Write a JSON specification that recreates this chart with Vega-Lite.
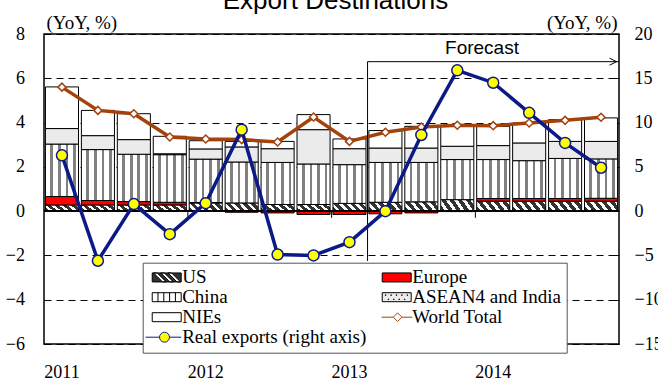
{
  "$schema": "https://vega.github.io/schema/vega-lite/v6.json",
  "width": 575,
  "height": 310,
  "autosize": {"type": "none"},
  "padding": {"left": 44, "top": 34, "right": 39, "bottom": 35},
  "background": "white",
  "title": {"text": "Export Destinations", "font": "Liberation Sans", "fontSize": 26, "fontWeight": "normal", "color": "black", "anchor": "middle", "frame": "group", "baseline": "alphabetic", "offset": 4, "dx": 4, "dy": 26},
  "config": {"view": {"stroke": "black", "strokeWidth": 1.5}, "font": "Liberation Serif"},
  "datasets": {
    "bars": [
      {"q": "2011Q1", "series": "US", "value": 0.28}, {"q": "2011Q1", "series": "Europe", "value": 0.38}, {"q": "2011Q1", "series": "China", "value": 2.37}, {"q": "2011Q1", "series": "ASEAN4 and India", "value": 0.70}, {"q": "2011Q1", "series": "NIEs", "value": 1.88},
      {"q": "2011Q2", "series": "US", "value": 0.28}, {"q": "2011Q2", "series": "Europe", "value": 0.20}, {"q": "2011Q2", "series": "China", "value": 2.30}, {"q": "2011Q2", "series": "ASEAN4 and India", "value": 0.63}, {"q": "2011Q2", "series": "NIEs", "value": 1.14},
      {"q": "2011Q3", "series": "US", "value": 0.28}, {"q": "2011Q3", "series": "Europe", "value": 0.15}, {"q": "2011Q3", "series": "China", "value": 2.14}, {"q": "2011Q3", "series": "ASEAN4 and India", "value": 0.66}, {"q": "2011Q3", "series": "NIEs", "value": 1.17},
      {"q": "2011Q4", "series": "US", "value": 0.28}, {"q": "2011Q4", "series": "Europe", "value": 0.12}, {"q": "2011Q4", "series": "China", "value": 2.15}, {"q": "2011Q4", "series": "ASEAN4 and India", "value": 0.04}, {"q": "2011Q4", "series": "NIEs", "value": 0.79},
      {"q": "2012Q1", "series": "US", "value": 0.37}, {"q": "2012Q1", "series": "Europe", "value": 0.02}, {"q": "2012Q1", "series": "China", "value": 1.96}, {"q": "2012Q1", "series": "ASEAN4 and India", "value": 0.46}, {"q": "2012Q1", "series": "NIEs", "value": 0.37},
      {"q": "2012Q2", "series": "US", "value": 0.37}, {"q": "2012Q2", "series": "Europe", "value": -0.05}, {"q": "2012Q2", "series": "China", "value": 1.85}, {"q": "2012Q2", "series": "ASEAN4 and India", "value": 0.68}, {"q": "2012Q2", "series": "NIEs", "value": 0.25},
      {"q": "2012Q3", "series": "US", "value": 0.30}, {"q": "2012Q3", "series": "Europe", "value": -0.08}, {"q": "2012Q3", "series": "China", "value": 1.90}, {"q": "2012Q3", "series": "ASEAN4 and India", "value": 0.62}, {"q": "2012Q3", "series": "NIEs", "value": 0.33},
      {"q": "2012Q4", "series": "US", "value": 0.30}, {"q": "2012Q4", "series": "Europe", "value": -0.15}, {"q": "2012Q4", "series": "China", "value": 1.83}, {"q": "2012Q4", "series": "ASEAN4 and India", "value": 1.55}, {"q": "2012Q4", "series": "NIEs", "value": 0.68},
      {"q": "2013Q1", "series": "US", "value": 0.35}, {"q": "2013Q1", "series": "Europe", "value": -0.15}, {"q": "2013Q1", "series": "China", "value": 1.75}, {"q": "2013Q1", "series": "ASEAN4 and India", "value": 0.72}, {"q": "2013Q1", "series": "NIEs", "value": 0.44},
      {"q": "2013Q2", "series": "US", "value": 0.40}, {"q": "2013Q2", "series": "Europe", "value": -0.12}, {"q": "2013Q2", "series": "China", "value": 1.80}, {"q": "2013Q2", "series": "ASEAN4 and India", "value": 0.65}, {"q": "2013Q2", "series": "NIEs", "value": 0.79},
      {"q": "2013Q3", "series": "US", "value": 0.42}, {"q": "2013Q3", "series": "Europe", "value": -0.08}, {"q": "2013Q3", "series": "China", "value": 1.78}, {"q": "2013Q3", "series": "ASEAN4 and India", "value": 0.65}, {"q": "2013Q3", "series": "NIEs", "value": 0.98},
      {"q": "2013Q4", "series": "US", "value": 0.52}, {"q": "2013Q4", "series": "Europe", "value": -0.02}, {"q": "2013Q4", "series": "China", "value": 1.81}, {"q": "2013Q4", "series": "ASEAN4 and India", "value": 0.60}, {"q": "2013Q4", "series": "NIEs", "value": 0.90},
      {"q": "2014Q1", "series": "US", "value": 0.45}, {"q": "2014Q1", "series": "Europe", "value": 0.12}, {"q": "2014Q1", "series": "China", "value": 1.76}, {"q": "2014Q1", "series": "ASEAN4 and India", "value": 0.63}, {"q": "2014Q1", "series": "NIEs", "value": 0.87},
      {"q": "2014Q2", "series": "US", "value": 0.45}, {"q": "2014Q2", "series": "Europe", "value": 0.12}, {"q": "2014Q2", "series": "China", "value": 1.71}, {"q": "2014Q2", "series": "ASEAN4 and India", "value": 0.80}, {"q": "2014Q2", "series": "NIEs", "value": 0.90},
      {"q": "2014Q3", "series": "US", "value": 0.45}, {"q": "2014Q3", "series": "Europe", "value": 0.12}, {"q": "2014Q3", "series": "China", "value": 1.81}, {"q": "2014Q3", "series": "ASEAN4 and India", "value": 0.77}, {"q": "2014Q3", "series": "NIEs", "value": 0.98},
      {"q": "2014Q4", "series": "US", "value": 0.45}, {"q": "2014Q4", "series": "Europe", "value": 0.13}, {"q": "2014Q4", "series": "China", "value": 1.78}, {"q": "2014Q4", "series": "ASEAN4 and India", "value": 0.79}, {"q": "2014Q4", "series": "NIEs", "value": 1.06}
    ],
    "lines": [
      {"q": "2011Q1", "world": 5.6, "real": 6.3},
      {"q": "2011Q2", "world": 4.55, "real": -5.6},
      {"q": "2011Q3", "world": 4.4, "real": 0.8},
      {"q": "2011Q4", "world": 3.35, "real": -2.6},
      {"q": "2012Q1", "world": 3.26, "real": 0.9},
      {"q": "2012Q2", "world": 3.23, "real": 9.2},
      {"q": "2012Q3", "world": 3.12, "real": -4.9},
      {"q": "2012Q4", "world": 4.25, "real": -5.0},
      {"q": "2013Q1", "world": 3.15, "real": -3.5},
      {"q": "2013Q2", "world": 3.56, "real": 0.0},
      {"q": "2013Q3", "world": 3.8, "real": 8.6},
      {"q": "2013Q4", "world": 3.88, "real": 15.9},
      {"q": "2014Q1", "world": 3.86, "real": 14.5},
      {"q": "2014Q2", "world": 3.98, "real": 11.1},
      {"q": "2014Q3", "world": 4.1, "real": 7.7},
      {"q": "2014Q4", "world": 4.24, "real": 4.9}
    ],
    "forecast": [{"start": "2013Q2", "end": "2014Q4", "label": "Forecast"}]
  },
  "layer": [
    {
      "layer": [
        {
          "data": {"name": "bars"},
          "transform": [{"calculate": "indexof(['US','Europe','China','ASEAN4 and India','NIEs'], datum.series)", "as": "ord"}],
          "mark": {"type": "bar", "stroke": "black", "strokeWidth": 1},
          "encoding": {
            "x": {"field": "q", "type": "ordinal",
              "scale": {"domain": ["2011Q1","2011Q2","2011Q3","2011Q4","2012Q1","2012Q2","2012Q3","2012Q4","2013Q1","2013Q2","2013Q3","2013Q4","2014Q1","2014Q2","2014Q3","2014Q4"], "paddingInner": 0.08, "paddingOuter": 0.04},
              "axis": {"title": null, "labelExpr": "indexof(datum.value, 'Q1') > 0 ? substring(datum.value, 0, 4) : ''", "ticks": false, "domain": false, "grid": false, "labelPadding": 19, "labelFont": "Liberation Serif", "labelFontSize": 18, "labelColor": "black", "labelAngle": 0, "labelOverlap": false}},
            "y": {"field": "value", "type": "quantitative", "stack": "zero",
              "scale": {"domain": [-6, 8], "nice": false},
              "axis": {"title": "(YoY, %)", "titleAngle": 0, "titleAlign": "left", "titleX": 2, "titleY": -6, "titleBaseline": "alphabetic", "titleFont": "Liberation Serif", "titleFontSize": 19, "titleFontWeight": "normal", "titleColor": "black",
                "values": [-6, -4, -2, 0, 2, 4, 6, 8], "labelFont": "Liberation Serif", "labelFontSize": 18, "labelColor": "black", "labelPadding": 25.5, "tickSize": -6, "tickColor": "black", "domain": false,
                "grid": true, "gridColor": "black", "gridDash": [7, 5], "gridWidth": 1, "gridOpacity": 1}},
            "detail": {"field": "series"},
            "order": {"field": "ord", "type": "quantitative"},
            "fill": {
              "condition": [
                {"test": "datum.series === 'US'", "value": {"gradient": "linear", "x1": 0, "y1": 1, "x2": 1.17, "y2": 0.72, "stops": [
                  {"offset": 0, "color": "#333333"}, {"offset": 0.11, "color": "#333333"}, {"offset": 0.11, "color": "white"}, {"offset": 0.2, "color": "white"},
                  {"offset": 0.2, "color": "#333333"}, {"offset": 0.31, "color": "#333333"}, {"offset": 0.31, "color": "white"}, {"offset": 0.4, "color": "white"},
                  {"offset": 0.4, "color": "#333333"}, {"offset": 0.51, "color": "#333333"}, {"offset": 0.51, "color": "white"}, {"offset": 0.6, "color": "white"},
                  {"offset": 0.6, "color": "#333333"}, {"offset": 0.71, "color": "#333333"}, {"offset": 0.71, "color": "white"}, {"offset": 0.8, "color": "white"},
                  {"offset": 0.8, "color": "#333333"}, {"offset": 0.91, "color": "#333333"}, {"offset": 0.91, "color": "white"}, {"offset": 1, "color": "white"}]}},
                {"test": "datum.series === 'Europe'", "value": "#ff0000"},
                {"test": "datum.series === 'China'", "value": {"gradient": "linear", "x1": 0, "y1": 0, "x2": 1, "y2": 0, "stops": [
                  {"offset": 0, "color": "white"}, {"offset": 0.15, "color": "white"}, {"offset": 0.15, "color": "#808080"}, {"offset": 0.23, "color": "#808080"},
                  {"offset": 0.23, "color": "white"}, {"offset": 0.38, "color": "white"}, {"offset": 0.38, "color": "#808080"}, {"offset": 0.46, "color": "#808080"},
                  {"offset": 0.46, "color": "white"}, {"offset": 0.61, "color": "white"}, {"offset": 0.61, "color": "#808080"}, {"offset": 0.69, "color": "#808080"},
                  {"offset": 0.69, "color": "white"}, {"offset": 0.84, "color": "white"}, {"offset": 0.84, "color": "#808080"}, {"offset": 0.92, "color": "#808080"},
                  {"offset": 0.92, "color": "white"}, {"offset": 1, "color": "white"}]}},
                {"test": "datum.series === 'ASEAN4 and India'", "value": "#ebebeb"}
              ],
              "value": "white"
            }
          }
        },
        {
          "data": {"name": "bars"},
          "transform": [{"filter": "datum.series === 'US' && indexof(datum.q, 'Q1') > 0 && datum.q !== '2011Q1'"}],
          "mark": {"type": "rule", "color": "black", "strokeWidth": 1},
          "encoding": {"x": {"field": "q", "type": "ordinal", "bandPosition": -0.04}, "y": {"datum": 0}, "y2": {"datum": -0.3}}
        },
        {
          "data": {"name": "lines"},
          "mark": {"type": "rule", "color": "black", "strokeWidth": 1.5},
          "encoding": {"y": {"datum": 0}}
        },
        {
          "data": {"name": "lines"},
          "mark": {"type": "line", "color": "#a4420c", "strokeWidth": 3.5},
          "encoding": {"x": {"field": "q", "type": "ordinal"}, "y": {"field": "world", "type": "quantitative"}}
        },
        {
          "data": {"name": "lines"},
          "mark": {"type": "point", "shape": "diamond", "filled": true, "fill": "white", "stroke": "#a4420c", "strokeWidth": 1.5, "size": 64, "opacity": 1},
          "encoding": {"x": {"field": "q", "type": "ordinal"}, "y": {"field": "world", "type": "quantitative"}}
        },
        {
          "data": {"name": "forecast"},
          "mark": {"type": "rule", "color": "black", "strokeWidth": 1},
          "encoding": {"x": {"field": "start", "type": "ordinal", "bandPosition": -0.04}, "y": {"datum": 6.75}, "y2": {"datum": -2.25}}
        },
        {
          "data": {"name": "forecast"},
          "mark": {"type": "rule", "color": "black", "strokeWidth": 1},
          "encoding": {"x": {"field": "start", "type": "ordinal", "bandPosition": -0.04}, "x2": {"value": "width"}, "y": {"datum": 6.75}}
        },
        {
          "data": {"name": "forecast"},
          "mark": {"type": "point", "shape": "M-2,-1L0,0L-2,1", "filled": false, "stroke": "black", "strokeWidth": 1, "size": 49, "opacity": 1},
          "encoding": {"x": {"field": "end", "type": "ordinal", "bandPosition": 0.97}, "y": {"datum": 6.75}}
        },
        {
          "data": {"name": "forecast"},
          "mark": {"type": "text", "font": "Liberation Sans", "fontSize": 19, "color": "black", "baseline": "alphabetic", "align": "center"},
          "encoding": {"x": {"datum": "2014Q1", "bandPosition": 0.16}, "y": {"datum": 7.1}, "text": {"field": "label"}}
        },
        {
          "data": {"values": []},
          "mark": {"type": "point", "filled": true, "opacity": 1},
          "encoding": {
            "x": {"field": "q", "type": "ordinal"},
            "y": {"field": "value", "type": "quantitative"},
            "shape": {"field": "series", "type": "nominal",
              "scale": {"domain": ["US", "Europe", "China", "ASEAN4 and India", "NIEs", "World Total", "Real exports (right axis)"],
                "range": [
                  "M-0.83,-0.75H4V0.75H-0.83ZM-0.6,-0.75L0.9,0.75H1.5L0,-0.75ZM0.6,-0.75L2.1,0.75H2.7L1.2,-0.75ZM1.8,-0.75L3.3,0.75H3.9L2.4,-0.75Z",
                  "M-0.83,-0.75H4V0.75H-0.83Z",
                  "M-0.83,-0.75H4V0.75H-0.83ZM0.13,-0.75V0.75M1.1,-0.75V0.75M2.07,-0.75V0.75M3.03,-0.75V0.75",
                  "M-0.83,-0.75H4V0.75H-0.83ZM-0.3,-0.4h0.1v0.1h-0.1ZM0.6,-0.4h0.1v0.1h-0.1ZM1.5,-0.4h0.1v0.1h-0.1ZM2.4,-0.4h0.1v0.1h-0.1ZM3.3,-0.4h0.1v0.1h-0.1ZM0.15,0.3h0.1v0.1h-0.1ZM1.05,0.3h0.1v0.1h-0.1ZM1.95,0.3h0.1v0.1h-0.1ZM2.85,0.3h0.1v0.1h-0.1Z",
                  "M-0.83,-0.75H4V0.75H-0.83Z",
                  "M-0.93,0H1.02M2.46,0H4.2M1.02,0L1.74,-0.72L2.46,0L1.74,0.72Z",
                  "M-1.95,0H0.39M2.05,0H4M0.39,0A0.83,0.83,0,1,0,2.05,0A0.83,0.83,0,1,0,0.39,0Z"]},
              "legend": {
                "title": null, "orient": "none", "legendX": 98.7, "legendY": 228.7, "direction": "horizontal",
                "columns": 2, "gridAlign": "all", "columnPadding": 11, "rowPadding": -2.5,
                "padding": 5, "fillColor": "white", "strokeColor": "#555555",
                "symbolSize": 144, "symbolOpacity": 1,
                "labelFont": "Liberation Serif", "labelFontSize": 19, "labelColor": "black", "labelOffset": 15.5, "labelLimit": 300
              }
            },
            "fill": {"field": "series", "type": "nominal",
              "scale": {"domain": ["US", "Europe", "China", "ASEAN4 and India", "NIEs", "World Total", "Real exports (right axis)"],
                "range": ["#333333", "#ff0000", "white", "#ebebeb", "white", "white", "#ffff00"]},
              "legend": {
                "title": null, "orient": "none", "legendX": 98.7, "legendY": 228.7, "direction": "horizontal",
                "columns": 2, "gridAlign": "all", "columnPadding": 11, "rowPadding": -2.5,
                "padding": 5, "fillColor": "white", "strokeColor": "#555555",
                "symbolSize": 144, "symbolOpacity": 1,
                "labelFont": "Liberation Serif", "labelFontSize": 19, "labelColor": "black", "labelOffset": 15.5, "labelLimit": 300
              }
            },
            "stroke": {"field": "series", "type": "nominal",
              "scale": {"domain": ["US", "Europe", "China", "ASEAN4 and India", "NIEs", "World Total", "Real exports (right axis)"],
                "range": ["black", "black", "black", "black", "black", "#a4420c", "#0c1a86"]},
              "legend": {
                "title": null, "orient": "none", "legendX": 98.7, "legendY": 228.7, "direction": "horizontal",
                "columns": 2, "gridAlign": "all", "columnPadding": 11, "rowPadding": -2.5,
                "padding": 5, "fillColor": "white", "strokeColor": "#555555",
                "symbolSize": 144, "symbolOpacity": 1,
                "labelFont": "Liberation Serif", "labelFontSize": 19, "labelColor": "black", "labelOffset": 15.5, "labelLimit": 300
              }
            },
            "strokeWidth": {"field": "series", "type": "nominal",
              "scale": {"domain": ["US", "Europe", "China", "ASEAN4 and India", "NIEs", "World Total", "Real exports (right axis)"],
                "range": [1, 1, 1, 1, 1, 3, 3]},
              "legend": {
                "title": null, "orient": "none", "legendX": 98.7, "legendY": 228.7, "direction": "horizontal",
                "columns": 2, "gridAlign": "all", "columnPadding": 11, "rowPadding": -2.5,
                "padding": 5, "fillColor": "white", "strokeColor": "#555555",
                "symbolSize": 144, "symbolOpacity": 1,
                "labelFont": "Liberation Serif", "labelFontSize": 19, "labelColor": "black", "labelOffset": 15.5, "labelLimit": 300
              }
            }
          }
        }
      ]
    },
    {
      "data": {"name": "lines"},
      "layer": [
        {
          "mark": {"type": "line", "color": "#0c1a86", "strokeWidth": 3.5},
          "encoding": {
            "x": {"field": "q", "type": "ordinal"},
            "y": {"field": "real", "type": "quantitative", "scale": {"domain": [-15, 20], "nice": false},
              "axis": {"orient": "right", "title": "(YoY, %)", "titleAngle": 0, "titleAlign": "right", "titleX": -2, "titleY": -6, "titleBaseline": "alphabetic", "titleFont": "Liberation Serif", "titleFontSize": 19, "titleFontWeight": "normal", "titleColor": "black",
                "values": [-15, -10, -5, 0, 5, 10, 15, 20], "labelFont": "Liberation Serif", "labelFontSize": 18, "labelColor": "black", "labelPadding": 21, "tickSize": -6, "tickColor": "black", "domain": false, "grid": false}}
          }
        },
        {
          "mark": {"type": "point", "shape": "circle", "filled": true, "fill": "#ffff00", "stroke": "#0c1a86", "strokeWidth": 1.5, "size": 121, "opacity": 1},
          "encoding": {"x": {"field": "q", "type": "ordinal"}, "y": {"field": "real", "type": "quantitative"}}
        }
      ]
    }
  ],
  "resolve": {"scale": {"y": "independent"}}
}
